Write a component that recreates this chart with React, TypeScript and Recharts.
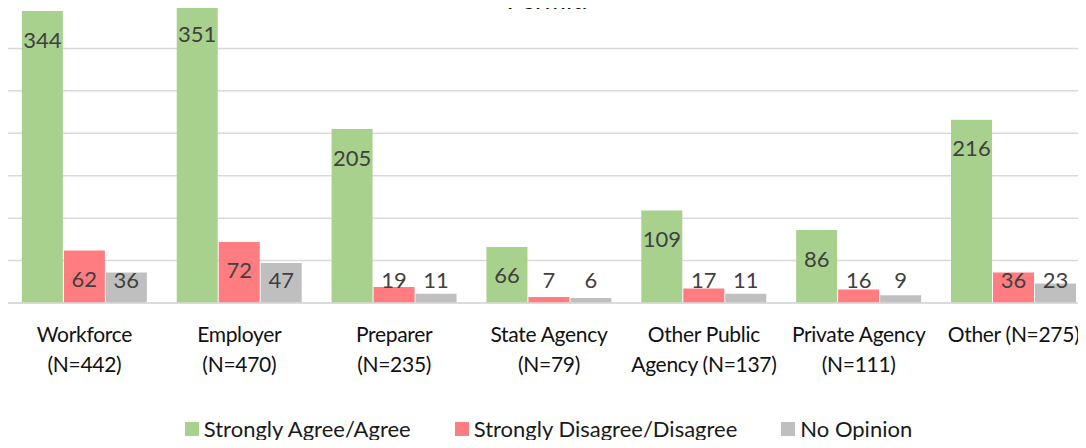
import { Bar, BarChart, CartesianGrid, LabelList, Legend, XAxis, YAxis } from "recharts";

const categories = [
  "Workforce\n(N=442)",
  "Employer\n(N=470)",
  "Preparer\n(N=235)",
  "State Agency\n(N=79)",
  "Other Public\nAgency (N=137)",
  "Private Agency\n(N=111)",
  "Other (N=275)"
];
const agree = [344, 351, 205, 66, 109, 86, 216];
const disagree = [62, 72, 19, 7, 17, 16, 36];
const noOpinion = [36, 47, 11, 6, 11, 9, 23];
const yTicks = [0, 50, 100, 150, 200, 250, 300, 350];

const seriesList = [
  { key: "agree", name: "Strongly Agree/Agree", color: "#A9D18E" },
  { key: "disagree", name: "Strongly Disagree/Disagree", color: "#FF7C80" },
  { key: "noOpinion", name: "No Opinion", color: "#BFBFBF" }
];

const data = categories.map((category, i) => ({
  category,
  agree: agree[i],
  disagree: disagree[i],
  noOpinion: noOpinion[i]
}));

const FONT = "Lato, 'Noto Sans', sans-serif";

function CategoryTick(props: any) {
  const { x, y, payload } = props;
  const lines = String(payload.value).split("\n");
  return (
    <text x={x} y={y} textAnchor="middle" fill="#111" fontSize={21} letterSpacing={-0.3} fontFamily={FONT}>
      {lines.map((line, i) => (
        <tspan key={i} x={x} dy={i === 0 ? 39 : 30}>
          {line}
        </tspan>
      ))}
    </text>
  );
}

function ValueLabel(props: any) {
  const { x, y, width, height, value } = props;
  const cy = Math.min(y + 28, y + height - 24);
  return (
    <text
      x={x + width / 2}
      y={cy}
      textAnchor="middle"
      dominantBaseline="central"
      fill="#404040"
      fontSize={22}
      fontFamily={FONT}
    >
      {value}
    </text>
  );
}

function LegendContent() {
  return (
    <div
      style={{
        display: "flex",
        justifyContent: "center",
        alignItems: "center",
        gap: 44,
        height: 30,
        fontFamily: FONT,
        fontSize: 22,
        lineHeight: "26px",
        color: "#1a1a1a",
        paddingLeft: 11
      }}
    >
      {seriesList.map((s) => (
        <div key={s.key} style={{ display: "flex", alignItems: "center", gap: 5 }}>
          <span style={{ width: 14, height: 14, background: s.color, display: "inline-block" }} />
          <span>{s.name}</span>
        </div>
      ))}
    </div>
  );
}

export default function App() {
  return (
    <div style={{ position: "relative", margin: -8, width: 1086, height: 448, overflow: "hidden", background: "#fff" }}>
      <div
        style={{
          position: "absolute",
          left: 547,
          top: -14,
          transform: "translateX(-50%)",
          fontFamily: FONT,
          fontSize: 26,
          lineHeight: "26px",
          color: "#111",
          whiteSpace: "nowrap",
          zIndex: 2
        }}
      >
        Permit.
      </div>
      <BarChart
        width={1095}
        height={448}
        data={data}
        margin={{ top: 6, right: 4, bottom: 0, left: 7 }}
        barCategoryGap="9.6%"
        barGap={1}
      >
        <CartesianGrid vertical={false} stroke="#D9D9D9" strokeWidth={1.5} />
        <XAxis
          dataKey="category"
          height={115}
          interval={0}
          tick={<CategoryTick />}
          tickLine={false}
          tickSize={0}
          tickMargin={0}
          axisLine={{ stroke: "#D9D9D9", strokeWidth: 1.5 }}
        />
        <YAxis hide domain={[0, 350]} ticks={yTicks} allowDataOverflow />
        <Legend
          verticalAlign="bottom"
          height={30}
          content={<LegendContent />}
          wrapperStyle={{ top: 414, bottom: "auto", left: 0, width: 1086 }}
        />
        {seriesList.map((s) => (
          <Bar key={s.key} dataKey={s.key} name={s.name} fill={s.color} isAnimationActive={false}>
            <LabelList dataKey={s.key} content={<ValueLabel />} />
          </Bar>
        ))}
      </BarChart>
    </div>
  );
}
